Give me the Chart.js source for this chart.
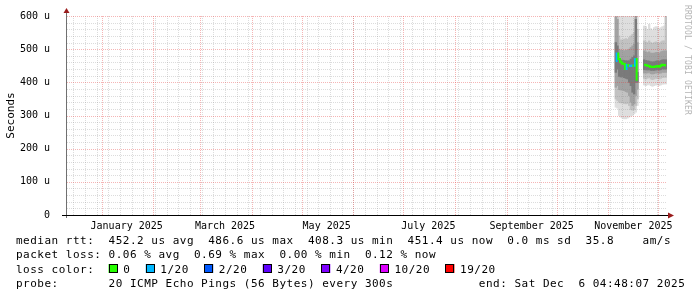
<!DOCTYPE html>
<html lang="en">
<head>
<meta charset="UTF-8">
<title>Smokeping - last 360 days</title>
<script src="https://cdn.jsdelivr.net/npm/chart.js"></script>
<style>
  html, body { margin: 0; padding: 0; background: #fff; }
  canvas { display: block; }
</style>
</head>
<body>
<canvas id="smoke" width="697" height="297"></canvas>
<script>
// graph window: 360 days ending here (UTC)
const endTime = '2025-12-06T04:48:07';
const spanDays = 360;

// x axis labels, rrdtool centres them half way into the month
const monthLabels = ['January 2025', 'March 2025', 'May 2025', 'July 2025', 'September 2025', 'November 2025'];
const monthLabelDates = ['2025-01-16', '2025-03-16', '2025-05-16', '2025-07-16', '2025-09-16', '2025-11-16'];

// y axis, microseconds
const yTicks = [0, 100, 200, 300, 400, 500, 600];

// one sample per day (noon); null = no data
const sampleDates = [
  '2025-11-05', '2025-11-06', '2025-11-07', '2025-11-08', '2025-11-09', '2025-11-10', '2025-11-11',
  '2025-11-12', '2025-11-13', '2025-11-14', '2025-11-15', '2025-11-16', '2025-11-17', '2025-11-18',
  '2025-11-19', '2025-11-20', '2025-11-21',
  '2025-11-22', '2025-11-23', '2025-11-24', '2025-11-25', '2025-11-26', '2025-11-27', '2025-11-28',
  '2025-11-29', '2025-11-30', '2025-12-01', '2025-12-02', '2025-12-03', '2025-12-04', '2025-12-05'
];

// median rtt (us)
const median = [
  464, 487, 470, 462, 457, 455, 440, 452, 450, 449, 451, 450, 470, 408,
  null, null, null,
  453, 452, 450, 449, 446, 447, 446, 448, 449, 447, 450, 453, 452, 451
];

// loss bucket per sample (index into lossColors)
const lossIdx = [
  1, 0, 0, 0, 0, 0, 1, 0, 1, 1, 0, 1, 0, 0,
  0, 0, 0,
  0, 0, 0, 0, 0, 0, 0, 0, 0, 0, 0, 0, 0, 0
];

// smoke, outermost to innermost ping ranges (us)
const smokeOuter = [
  [325, 600], [322, 600], [300, 600], [295, 600], [292, 600], [290, 600], [290, 600],
  [292, 600], [295, 600], [298, 600], [300, 600], [305, 600], [310, 600], [330, 600],
  null, null, null,
  [392, 570], [390, 568], [392, 560], [394, 575], [390, 562], [388, 558], [390, 565],
  [392, 568], [392, 566], [390, 562], [392, 565], [394, 568], [395, 570], [395, 600]
];
const smokeWide = [
  [350, 600], [345, 600], [340, 540], [338, 528], [338, 528], [336, 530], [335, 532],
  [336, 530], [330, 535], [318, 540], [316, 545], [318, 550], [330, 600], [350, 560],
  null, null, null,
  [412, 525], [410, 522], [412, 520], [414, 525], [410, 520], [408, 518], [410, 520],
  [412, 522], [412, 520], [410, 518], [412, 522], [414, 525], [415, 525], [415, 600]
];
const smokeMid = [
  [385, 597], [390, 590], [378, 500], [377, 497], [377, 497], [375, 495], [372, 497],
  [370, 497], [360, 500], [340, 505], [330, 510], [335, 515], [360, 600], [380, 520],
  null, null, null,
  [428, 495], [428, 492], [428, 490], [430, 492], [426, 488], [425, 488], [426, 488],
  [428, 490], [428, 490], [427, 488], [428, 492], [430, 494], [430, 495], [430, 495]
];
const smokeCore = [
  [430, 520], [440, 510], [418, 470], [416, 467], [416, 467], [414, 466], [412, 465],
  [410, 465], [400, 465], [390, 470], [370, 475], [365, 480], [400, 590], [400, 430],
  null, null, null,
  [438, 468], [438, 466], [437, 465], [438, 464], [436, 462], [436, 462], [436, 462],
  [437, 464], [438, 465], [437, 463], [438, 466], [440, 468], [440, 468], [440, 468]
];

// legend
const rttStats = ['452.2 us avg', '486.6 us max', '408.3 us min', '451.4 us now', '0.0 ms sd', '35.8    am/s'];
const lossStats = ['0.06 % avg', '0.69 % max', '0.00 % min', '0.12 % now'];
const lossLabels = ['0', '1/20', '2/20', '3/20', '4/20', '10/20', '19/20'];
const lossColors = ['#26ff00', '#00b8ff', '#0059ff', '#5e00ff', '#7e00ff', '#dd00ff', '#ff0000'];
const probeText = '20 ICMP Echo Pings (56 Bytes) every 300s';
const endText = 'end: Sat Dec  6 04:48:07 2025';

const MONO = "'DejaVu Sans Mono', 'Liberation Mono', monospace";
const smokeColors = ['#dedede', '#c2c2c2', '#a2a2a2', '#7a7a7a'];

const t0 = Date.parse(endTime + 'Z') - spanDays * 864e5;
const toDay = (s, h) => (Date.parse(s + 'T00:00:00Z') + h * 36e5 - t0) / 864e5;

// grid positions (days)
const monthStarts = [];
for (let m = 0; m < 12; m++) {
  const d = (Date.UTC(2025, m, 1) - t0) / 864e5;
  if (d > 0 && d < spanDays) monthStarts.push(d);
}
const weekLines = [];
for (let d = toDay('2024-12-15', 0); d < spanDays; d += 7) weekLines.push(d);

function dotted(ctx, x1, y1, x2, y2) {
  ctx.beginPath();
  ctx.moveTo(x1, y1);
  ctx.lineTo(x2, y2);
  ctx.stroke();
}

const gridPlugin = {
  id: 'rrdgrid',
  beforeDatasetDraw(chart, args) {
    if (args.meta.type !== 'line') return;
    const { ctx, chartArea: a, scales: { x, y } } = chart;
    ctx.save();
    ctx.lineWidth = 1;
    ctx.setLineDash([1, 1]);
    // minor
    ctx.strokeStyle = 'rgba(128,128,128,0.28)';
    for (let v = 20; v <= 600; v += 20) {
      if (v % 100 === 0) continue;
      const py = Math.round(y.getPixelForValue(v)) + 0.5;
      dotted(ctx, a.left, py, a.right, py);
    }
    weekLines.forEach(d => {
      const px = Math.round(x.getPixelForValue(d)) + 0.5;
      dotted(ctx, px, a.top, px, a.bottom);
    });
    // major
    ctx.strokeStyle = 'rgba(230,60,60,0.38)';
    yTicks.forEach(v => {
      if (v === 0) return;
      const py = Math.round(y.getPixelForValue(v)) + 0.5;
      dotted(ctx, a.left, py, a.right, py);
    });
    monthStarts.forEach(d => {
      const px = Math.round(x.getPixelForValue(d)) + 0.5;
      dotted(ctx, px, a.top, px, a.bottom);
    });
    ctx.restore();
  }
};

function monoText(ctx, text, x, y, cw) {
  for (let i = 0; i < text.length; i++) {
    if (text[i] !== ' ') ctx.fillText(text[i], x + i * cw, y);
  }
}

const decorPlugin = {
  id: 'rrddecor',
  afterDraw(chart) {
    const { ctx, chartArea: a } = chart;
    ctx.save();
    // axes
    ctx.lineWidth = 1;
    ctx.strokeStyle = '#707070';
    ctx.beginPath();
    ctx.moveTo(a.left - 0.5, a.top - 4);
    ctx.lineTo(a.left - 0.5, a.bottom + 3);
    ctx.stroke();
    ctx.strokeStyle = '#000';
    ctx.beginPath();
    ctx.moveTo(a.left - 5, a.bottom + 0.5);
    ctx.lineTo(a.right + 1, a.bottom + 0.5);
    ctx.stroke();
    // arrows
    ctx.fillStyle = '#9a1c1c';
    ctx.beginPath();
    ctx.moveTo(a.left - 0.5, a.top - 8);
    ctx.lineTo(a.left - 3.5, a.top - 3);
    ctx.lineTo(a.left + 2.5, a.top - 3);
    ctx.closePath();
    ctx.fill();
    ctx.beginPath();
    ctx.moveTo(a.right + 7, a.bottom + 0.5);
    ctx.lineTo(a.right + 1, a.bottom - 2.5);
    ctx.lineTo(a.right + 1, a.bottom + 3.5);
    ctx.closePath();
    ctx.fill();

    // legend
    const cw = 7.12, lx = 16, ly = 244, lh = 14.35;
    ctx.fillStyle = '#000';
    ctx.font = '11px ' + MONO;
    ctx.textAlign = 'left';
    ctx.textBaseline = 'alphabetic';
    monoText(ctx, 'median rtt:  ' + rttStats.join('  '), lx, ly, cw);
    monoText(ctx, 'packet loss: ' + lossStats.join('  '), lx, ly + lh, cw);
    monoText(ctx, 'loss color:', lx, ly + 2 * lh, cw);
    monoText(ctx, ('probe:       ' + probeText).padEnd(65) + endText, lx, ly + 3 * lh, cw);
    let bx = lx + 13 * cw;
    const by = Math.round(ly + 2 * lh) - 9;
    lossLabels.forEach((lab, i) => {
      ctx.fillStyle = lossColors[i];
      ctx.fillRect(bx, by, 9, 9);
      ctx.strokeStyle = '#000';
      ctx.strokeRect(Math.round(bx) + 0.5, by + 0.5, 8, 8);
      ctx.fillStyle = '#000';
      monoText(ctx, lab, bx + 14.6, ly + 2 * lh, cw);
      bx += 15.8 + (lab.length + 2) * cw;
    });

    // watermark
    ctx.translate(687, 5);
    ctx.rotate(Math.PI / 2);
    ctx.fillStyle = '#b4b4b4';
    ctx.font = '8px ' + MONO;
    ctx.textBaseline = 'middle';
    monoText(ctx, 'RRDTOOL / TOBI OETIKER', 0, 0, 5);
    ctx.restore();
  }
};

const smokeSets = [smokeOuter, smokeWide, smokeMid, smokeCore].map((band, i) => ({
  type: 'bar',
  data: sampleDates.map((d, k) => band[k] ? { x: toDay(d, 12), y: band[k] } : null).filter(Boolean),
  backgroundColor: smokeColors[i],
  borderWidth: 0,
  grouped: false,
  barPercentage: 1,
  categoryPercentage: 1,
  order: 10 - i
}));

const medianSet = {
  type: 'line',
  data: sampleDates.map((d, k) => ({ x: toDay(d, 12), y: median[k] })),
  borderColor: lossColors[0],
  borderWidth: 2,
  pointRadius: 0,
  stepped: 'middle',
  spanGaps: false,
  segment: { borderColor: c => lossColors[lossIdx[c.p0DataIndex]] },
  order: 0
};

Chart.defaults.font.family = MONO;
Chart.defaults.color = '#000';

new Chart(document.getElementById('smoke'), {
  type: 'bar',
  data: { datasets: [...smokeSets, medianSet] },
  options: {
    responsive: false,
    animation: false,
    devicePixelRatio: 1,
    layout: { padding: { left: 0, top: 16, right: 30, bottom: 0 } },
    plugins: { legend: { display: false }, tooltip: { enabled: false } },
    scales: {
      x: {
        type: 'linear',
        min: 0,
        max: spanDays,
        offset: false,
        grid: { display: false },
        border: { display: false },
        afterBuildTicks: s => { s.ticks = monthLabelDates.map(d => ({ value: toDay(d, 0) })); },
        afterFit: s => { s.height = 82; },
        ticks: {
          autoSkip: false,
          maxRotation: 0,
          minRotation: 0,
          padding: -3,
          font: { size: 10 },
          callback: (v, i) => monthLabels[i]
        }
      },
      y: {
        min: 0,
        max: 600,
        grid: { display: false },
        border: { display: false },
        afterBuildTicks: s => { s.ticks = yTicks.map(v => ({ value: v })); },
        afterFit: s => { s.width = 67; },
        ticks: {
          padding: 9,
          font: { size: 10 },
          callback: v => v === 0 ? '0' : v + ' u'
        },
        title: {
          display: true,
          text: 'Seconds',
          font: { size: 11 },
          padding: { top: 5, bottom: 0 }
        }
      }
    }
  },
  plugins: [gridPlugin, decorPlugin]
});
</script>
</body>
</html>
